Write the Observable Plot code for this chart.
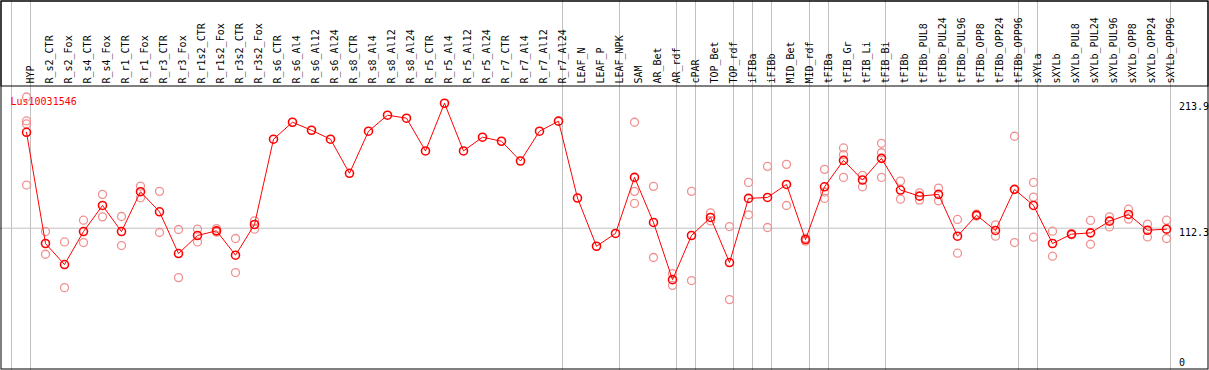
<!DOCTYPE html>
<html>
<head>
<meta charset="utf-8">
<script src="https://cdn.jsdelivr.net/npm/d3@7"></script>
<script src="https://cdn.jsdelivr.net/npm/@observablehq/plot@0.6"></script>
<style>
  html, body { margin: 0; padding: 0; background: #fff; }
  #chart svg { display: block; }
</style>
</head>
<body>
<div id="chart"></div>
<script>
const geneTitle = "Lus10031546";

const names = ["HYP","R_s2_CTR","R_s2_Fox","R_s4_CTR","R_s4_Fox","R_r1_CTR","R_r1_Fox","R_r3_CTR","R_r3_Fox",
  "R_r1s2_CTR","R_r1s2_Fox","R_r3s2_CTR","R_r3s2_Fox","R_s6_CTR","R_s6_Al4","R_s6_Al12","R_s6_Al24",
  "R_s8_CTR","R_s8_Al4","R_s8_Al12","R_s8_Al24","R_r5_CTR","R_r5_Al4","R_r5_Al12","R_r5_Al24",
  "R_r7_CTR","R_r7_Al4","R_r7_Al12","R_r7_Al24","LEAF_N","LEAF_P","LEAF_NPK","SAM","AR_Bet","AR_rdf",
  "cPAR","TOP_Bet","TOP_rdf","iFIBa","iFIBb","MID_Bet","MID_rdf","tFIBa","tFIB_Gr","tFIB_Li","tFIB_Bi",
  "tFIBb","tFIBb_PUL8","tFIBb_PUL24","tFIBb_PUL96","tFIBb_OPP8","tFIBb_OPP24","tFIBb_OPP96",
  "sXYLa","sXYLb","sXYLb_PUL8","sXYLb_PUL24","sXYLb_PUL96","sXYLb_OPP8","sXYLb_OPP24","sXYLb_OPP96"];

const means = [192.5,99.5,81.9,109.5,131.3,109.5,142.8,126.0,91.1,
  106.2,110.1,89.7,115.4,186.7,200.9,194.2,186.7,
  158.2,193.4,206.8,204.3,176.9,216.8,176.9,188.4,
  185.0,168.5,193.4,201.8,137.5,97.2,107.9,154.8,117.1,69.3,
  106.2,121.3,83.6,137.2,138.0,148.9,102.8,146.9,169.0,152.6,170.7,
  144.2,139.1,140.6,105.6,123.2,110.4,144.8,
  131.3,99.5,107.3,108.4,118.2,123.8,110.6,111.5];

const replicates = [
  [222,202,199.5,148.4],[109.5,90.5],[100.8,62.6],[119,100.3],[140.6,121.8],[122.1,97.8],[147.5,137.7],[143.1,108.7],[111.2,71],
  [111.5,100.8],[112,109],[103.7,75.2],[118.4,111.5],[],[],[],[],
  [],[],[],[],[],[],[],[],
  [],[],[],[],[],[],[],[200.9,143.1,133],[147.3,87.8],[74.3,64.5],
  [143.1,68.5],[125.1,118.4],[113.7,52.6],[150.6,123.5],[164,112.9],[165.7,131.3],[104,101.5],[161.5,142.5,137.2],[179.4,173.8,154.8],[156.5,146.9],[183.3,175.4,154.8],
  [151.7,136.6],[141.9,135.8],[145.8,135.2],[119.6,91.4],[124,122.5],[115.1,105.6],[189.2,100.3],
  [150.6,138.3,104.8],[109.8,88.9],[107.8,106.8],[118.8,98.9],[121.8,113.4],[128.2,119.9],[115.7,105],[119,103.7]
];

const groupEnds = ["HYP","R_r7_Al24","LEAF_NPK","AR_rdf","cPAR","TOP_rdf","iFIBa","iFIBb","MID_rdf","tFIBa","tFIB_Bi","tFIBb_OPP96","sXYLa","sXYLb_OPP96"];
const yTickTop = 213.9;
const yTickMid = 112.3;
const yTickZero = 0;

const meanRows = names.map((n, i) => ({name: n, value: means[i]}));
const repRows = names.flatMap((n, i) => replicates[i].map(v => ({name: n, value: v})));

const font = "DejaVu Sans Mono";

const chart = Plot.plot({
  width: 1209,
  height: 370,
  marginTop: 0, marginRight: 0, marginBottom: 0, marginLeft: 0,
  style: {fontFamily: font, fontSize: "10px", background: "#fff"},
  x: {type: "point", domain: names, range: [26, 1166], padding: 0, axis: null},
  y: {type: "linear", domain: [0, yTickTop], range: [362, 106.2], axis: null},
  marks: [
    Plot.ruleX(groupEnds, {x: d => d, dx: 4, stroke: "#c0c0c0", strokeWidth: 1}),
    Plot.ruleX([names[0]], {x: d => d, dx: -15, stroke: "#c0c0c0", strokeWidth: 1}),
    Plot.ruleY([yTickMid], {y: d => d, stroke: "#c0c0c0", strokeWidth: 1, insetRight: 38.5}),
    Plot.frame({stroke: "black", insetLeft: 0.5, insetTop: 0.5, insetRight: 1.5, insetBottom: 1.5}),
    Plot.frame({stroke: "black", insetLeft: 0.5, insetTop: 0.5, insetRight: 1.5, insetBottom: 370 - 85.5}),
    Plot.text(names, {x: d => d, frameAnchor: "top", dy: 83, rotate: -90, textAnchor: "start", fill: "black", fontSize: 10}),
    Plot.text([geneTitle], {frameAnchor: "top-left", dx: 10, dy: 97, textAnchor: "start", fill: "red", fontSize: 10}),
    Plot.text([yTickTop, yTickZero], {y: d => d, frameAnchor: "left", dx: 1178.5, textAnchor: "start", fill: "black", text: d => String(d), fontSize: 10}),
    Plot.text([yTickMid], {y: d => d, frameAnchor: "left", dx: 1178.5, dy: 5, textAnchor: "start", fill: "black", text: d => String(d), fontSize: 10}),
    Plot.dot(repRows, {x: "name", y: "value", r: 4, stroke: "#f09090", strokeWidth: 1.3, fill: "none"}),
    Plot.line(meanRows, {x: "name", y: "value", stroke: "red", strokeWidth: 1}),
    Plot.dot(meanRows, {x: "name", y: "value", r: 4, stroke: "red", strokeWidth: 1.6, fill: "none"})
  ]
});

document.getElementById("chart").appendChild(chart);
</script>
</body>
</html>
